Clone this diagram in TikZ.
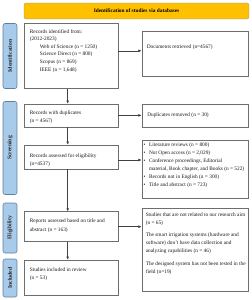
\documentclass[tikz,border=0pt]{standalone}
\usepackage{fontspec}
\setmainfont{Liberation Serif}
\usetikzlibrary{arrows.meta,positioning}
\definecolor{tabblue}{HTML}{A9CBEA}
\definecolor{tabline}{HTML}{5E7F9E}
\definecolor{headgold}{HTML}{FFC000}
\definecolor{boxline}{HTML}{6E6E6E}
\newcommand{\bul}{\makebox[7.8pt][l]{\textbullet}}
\newcommand{\bulind}{\hspace*{7.8pt}}
\begin{document}
\begin{tikzpicture}[x=0.05cm,y=-0.05cm,
  box/.style={draw=boxline,line width=0.8pt,inner sep=0pt},
  lbox/.style={box,minimum width=4.7cm},
  rbox/.style={box,minimum width=5.3cm},
  lbl/.style={font=\fontsize{7.6}{12}\selectfont,align=left,inner sep=0pt,text=black!90},
  tabbox/.style={draw=tabline,fill=tabblue,line width=0.8pt,rounded corners=3pt,rotate=90,
    minimum height=0.7cm,inner sep=0pt,font=\fontsize{8}{9}\selectfont\bfseries,text=black!85},
  arr/.style={-{Latex[length=4.5pt,width=4pt]},line width=0.8pt,black!75}]
\useasboundingbox (0,0) rectangle (251,300);
% header
\node[draw=black!45,fill=headgold,rounded corners=3pt,minimum width=11.25cm,minimum height=0.8cm,
  inner sep=0pt,font=\fontsize{7.6}{9}\selectfont\bfseries] (head) at (136.5,11) {Identification of studies via databases};
% phase tabs
\node[tabbox,minimum width=3.25cm] (tabid) at (10,56) {Identification};
\node[tabbox,minimum width=4.65cm] (tabsc) at (10,148) {Screening};
\node[tabbox,minimum width=2.5cm] (tabel) at (10,228) {Eligibility};
\node[tabbox,minimum width=1.9cm] (tabin) at (10,278) {Included};
% left column
\node[lbox,minimum height=3.25cm] (ident) at (71,55.8) {};
\node[lbl,font=\fontsize{7.6}{10.7}\selectfont,anchor=north west] (identtxt) at ([shift={(6,6.5)}]ident.north west)
  {Records identified from:\\(2012-2023)\\
   \hspace*{0.5cm}Web of Science (n = 1250)\\
   \hspace*{0.5cm}Science Direct (n = 800)\\
   \hspace*{0.5cm}Scopus (n = 869)\\
   \hspace*{0.5cm}IEEE (n = 1,648)};
\node[lbox,minimum height=1.14cm] (dupl) at (71,115.4) {};
\node[lbl,anchor=west] (dupltxt) at ([shift={(6,2)}]dupl.west) {Records with duplicates\\(n = 4567)};
\node[lbox,minimum height=1.2cm] (assess) at (71,157) {};
\node[lbl,anchor=west] (assesstxt) at ([shift={(6,3)}]assess.west) {Records assessed for eligibility\\(n=4537)};
\node[lbox,minimum height=1.5cm] (reports) at (71,226.7) {};
\node[lbl,anchor=west] (reportstxt) at ([shift={(6,-1)}]reports.west) {Reports assessed based on title and\\abstract (n = 163)};
\node[lbox,minimum height=1.75cm] (incl) at (71,277.5) {};
\node[lbl,anchor=west] (incltxt) at ([shift={(6,-3.5)}]incl.west) {Studies included in review\\(n = 53)};
% right column
\node[rbox,minimum height=2.25cm] (docs) at (194.9,54.2) {};
\node[lbl,anchor=west] (docstxt) at ([shift={(5,-7)}]docs.west) {Documents retrieved (n=4567)};
\node[rbox,minimum height=1.14cm] (duprem) at (194.9,115.4) {};
\node[lbl,anchor=west] (dupremtxt) at ([shift={(5.5,0)}]duprem.west) {Duplicates removed (n = 30)};
\node[rbox,minimum height=2.9cm] (excl) at (194.9,169.2) {};
\node[lbl,font=\fontsize{7.6}{11.4}\selectfont,anchor=north west] (excltxt) at ([shift={(1.8,2.5)}]excl.north west)
  {\bul Literature reviews (n = 800)\\
   \bul Not Open access (n = 2,029)\\
   \bul Conference proceedings, Editorial\\
   \bulind material, Book chapter, and Books (n = 522)\\
   \bul Records not in English (n = 300)\\
   \bul Title and abstract (n = 723)};
\node[rbox,minimum height=4.17cm] (exclrep) at (194.9,250) {};
\node[lbl,font=\fontsize{7.6}{11.4}\selectfont,anchor=north west] (exclreptxt) at ([shift={(4,4.5)}]exclrep.north west)
  {Studies that are not related to our research aim\\(n = 65)\\[6.4pt]
   The smart irrigation systems (hardware and\\software) don't have data collection and\\analyzing capabilities (n = 46)\\[6.4pt]
   The designed system has not been tested in the\\field (n=19)};
% connectors
\coordinate (a1) at ([shift={(0,-5)}]ident.east);
\coordinate (a3) at ([shift={(0,3)}]assess.east);
\draw[arr] (a1) -- (a1 -| docs.west);
\draw[arr] (dupl.east) -- (dupl.east -| duprem.west);
\draw[arr] (a3) -- (a3 -| excl.west);
\draw[arr] (reports.east) -- (reports.east -| exclrep.west);
\draw[arr] ([shift={(-3.3,0)}]ident.south) -- ([shift={(-3.3,0)}]dupl.north);
\draw[arr] ([shift={(-3.3,0)}]dupl.south) -- ([shift={(-3.3,0)}]assess.north);
\draw[arr] ([shift={(-3.3,0)}]assess.south) -- ([shift={(-3.3,0)}]reports.north);
\draw[arr] ([shift={(-3.3,0)}]reports.south) -- ([shift={(-3.3,0)}]incl.north);
\end{tikzpicture}
\end{document}
